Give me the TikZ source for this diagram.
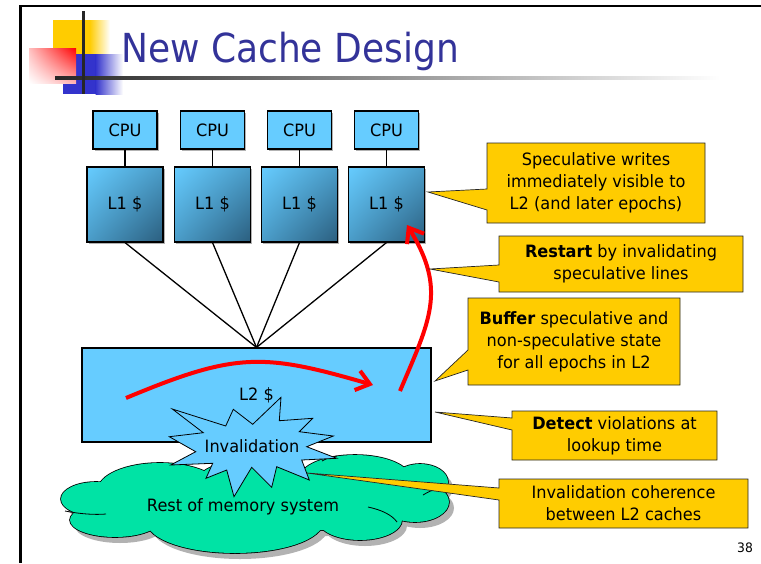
\documentclass[tikz,border=0pt]{standalone}
\usepackage{fontspec}
\setmainfont{DejaVu Sans}[FakeStretch=0.95]
\newfontfamily\titlefont{DejaVu Sans}[FakeStretch=0.9]
\usetikzlibrary{arrows.meta,shadows,shadings}
\definecolor{boxblue}{HTML}{66CCFF}
\definecolor{cachemid}{HTML}{4A9CC8}
\definecolor{cachedark}{HTML}{2B5E7E}
\definecolor{calloutgold}{HTML}{FFCC00}
\definecolor{titleblue}{HTML}{333399}
\definecolor{cloudgreen}{HTML}{00E3A5}
\definecolor{decoblue}{HTML}{3333CC}
\definecolor{decoyellow}{HTML}{FFCC00}
\definecolor{decored}{HTML}{FF0000}

% callout: name, x0, y0, x1, y1, pointer base top, pointer base bottom, tip, text
\newcommand\drawcallout[9]{%
  \draw[calloutshape] (#2,#3) -- (#4,#3) -- (#4,#5) -- (#2,#5) -- (#2,#7)
    -- (#8) -- (#2,#6) -- cycle;
  \node[txt] (#1) at ({(#2+#4)/2},{(#3+#5)/2}) {#9};}

% puffs of the memory cloud: centre x / centre y / x radius / y radius
\def\cloudpuffs{96/499/35/17, 160/490/62/27, 115/520/45/17, 235/522/88/31,
  360/520/42/20, 415/502/34/20, 420/482/28/18, 355/478/55/23, 255/478/55/18,
  255/505/150/28}

\begin{document}
\begin{tikzpicture}[x=1pt,y=-1pt,
  txt/.style={font=\fontsize{17}{22}\selectfont, text=black, inner sep=0pt, align=center},
  cpubox/.style={draw=black, line width=1.1pt, fill=boxblue, minimum width=64pt,
    minimum height=38pt, inner sep=0pt, font=\fontsize{17}{20}\selectfont,
    drop shadow={shadow xshift=1.5pt, shadow yshift=-1.5pt, fill=black!30, opacity=1}},
  l1box/.style={draw=black, line width=1.1pt, upper left=boxblue, upper right=cachemid,
    lower left=cachemid, lower right=cachedark, minimum width=76pt, minimum height=75pt,
    inner sep=0pt, font=\fontsize{17}{20}\selectfont,
    drop shadow={shadow xshift=1.5pt, shadow yshift=-1.5pt, fill=black!30, opacity=1}},
  l2box/.style={draw=black, line width=1.1pt, fill=boxblue, minimum width=349pt,
    minimum height=94pt, inner sep=0pt, font=\fontsize{17}{20}\selectfont},
  wire/.style={draw=black, line width=1.3pt},
  redarrow/.style={draw=red, line width=4pt, -{Straight Barb[length=13pt,width=20pt]}},
  calloutshape/.style={draw=black!85, line width=0.7pt, fill=calloutgold, line join=miter},
  burst/.style={draw=black, line width=0.8pt, fill=boxblue, line join=miter},
  puffline/.style={draw=black, line width=0.8pt},
]
\useasboundingbox (0,0) rectangle (761,563);

% slide frame
\draw[line width=2.4pt, line join=miter] (761,6.2) -- (20.5,6.2) -- (20.5,563);

% title ornament
\fill[decoyellow] (53,20) rectangle (90,54);
\shade[left color=decoyellow, right color=white] (89.5,20) rectangle (110,54);
\fill[decoblue] (63,54) rectangle (96,94);
\shade[left color=decoblue, right color=white] (95.5,54) rectangle (123,94);
\shade[upper right=decored, upper left=decored!25, lower right=decored!30, lower left=white]
  (29,48) rectangle (76,83);
\shade[left color=black!85, right color=white] (55,76) rectangle (720,79);
\fill[black!85] (82,11) rectangle (84.5,94);
\node[anchor=base west, inner sep=0pt, text=titleblue,
  font=\titlefont\fontsize{40}{40}\selectfont] (title) at (121,62) {New Cache Design};

% processors and private caches
\foreach \i/\x in {a/125,b/212.5,c/299.5,d/386.5}{
  \node[cpubox] (cpu\i) at (\x,130) {CPU};
  \node[l1box] (l1\i) at (\x,204.5) {L1 \$};
  \draw[wire] (cpu\i.south) -- (l1\i.north);
}

% shared L2
\node[l2box] (l2) at (256.5,395) {L2 \$};
\foreach \i in {a,b,c,d}{ \draw[wire] (l1\i.south) -- (l2.north); }

% speculative data flow
\coordinate (r1s) at (126,398);
\coordinate (r1e) at (373,385);
\draw[redarrow] (r1s) .. controls (236,352) and (263,353) .. (r1e);
\coordinate (r2s) at (400,391);
\coordinate (r2e) at (407,225);
\draw[redarrow] (r2s) .. controls (430,320) and (447,290) .. (r2e);

% memory system cloud: shadow, outlined puffs, then a fill that keeps only the outer rim
\foreach \cx/\cy/\rx/\ry in \cloudpuffs
  \fill[black!30] ({\cx+5},{\cy+6}) ellipse [x radius=\rx, y radius=\ry];
\foreach \cx/\cy/\rx/\ry in \cloudpuffs
  \draw[line width=1.6pt, fill=cloudgreen] (\cx,\cy) ellipse [x radius=\rx, y radius=\ry];
\foreach \cx/\cy/\rx/\ry in \cloudpuffs
  \fill[cloudgreen] (\cx,\cy) ellipse [x radius=\rx, y radius=\ry];
\draw[puffline] (65,511) .. controls (80,514) and (95,515) .. (106,514);
\draw[puffline] (368,507) .. controls (382,510) and (392,515) .. (397,522);
\draw[puffline] (423,495) .. controls (428,492) and (432,490) .. (437,489);
\draw[puffline] (322,461) .. controls (327,458) and (332,457) .. (337,456);
\node[txt] (mem) at (243,507) {Rest of memory system};

% explanations
\coordinate (tipwrite) at (428,192);
\coordinate (tiprestart) at (430,269);
\coordinate (tipbuffer) at (435,381);
\coordinate (tipdetect) at (435,412);
\coordinate (tipinval) at (307,473);
\drawcallout{cwrite}{487}{143}{705}{223}{189}{210}{tipwrite}%
  {Speculative writes\\immediately visible to\\L2 (and later epochs)}
\drawcallout{crestart}{499}{236}{743}{292}{265}{282}{tiprestart}%
  {\textbf{Restart} by invalidating\\speculative lines}
\drawcallout{cbuffer}{468}{298}{680}{385}{350}{370}{tipbuffer}%
  {\textbf{Buffer} speculative and\\non-speculative state\\for all epochs in L2}
\drawcallout{cdetect}{512}{411}{717}{460}{418}{430}{tipdetect}%
  {\textbf{Detect} violations at\\lookup time}
\drawcallout{cinval}{499}{479}{748}{528}{488}{500}{tipinval}%
  {Invalidation coherence\\between L2 caches}

% invalidation burst
\draw[burst] (172.3,409) -- (225.7,426) -- (233.3,409.3) -- (252.7,424.3) -- (281,397.3)
  -- (279.3,420.7) -- (312.7,418.3) -- (299.3,431.7) -- (333.3,436) -- (306.7,446.7)
  -- (336.7,458.3) -- (301.7,460) -- (309.3,480) -- (276.7,466.7) -- (271.7,487.3)
  -- (251.7,467.3) -- (234,496.7) -- (226.7,470) -- (206,478.3) -- (212.7,463.3)
  -- (170.7,465) -- (195.7,451.7) -- (169.3,436.7) -- (203.3,432.7) -- cycle;
\node[txt] (inval) at (252,446) {Invalidation};

\node[font=\fontsize{13}{13}\selectfont, inner sep=0pt] (pagenum) at (745,548) {38};
\end{tikzpicture}
\end{document}
